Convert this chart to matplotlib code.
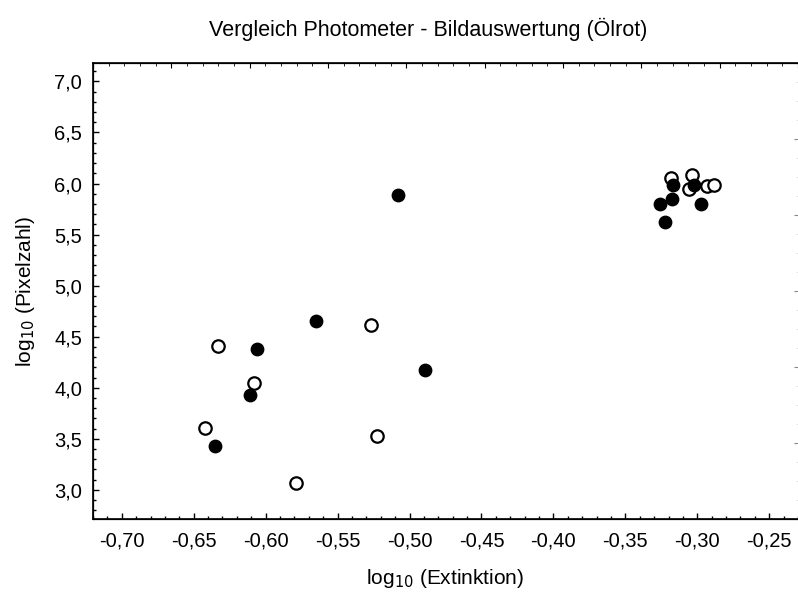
import numpy as np
import matplotlib.pyplot as plt

plt.rcParams['font.family'] = ['Liberation Sans', 'DejaVu Sans']

# Photometer (filled) and open circles, log10 values
ext_filled = [-0.6353, -0.6110, -0.6062, -0.5653, -0.5080, -0.4890,
              -0.3260, -0.3225, -0.3175, -0.3172, -0.3022, -0.2972]
pix_filled = [3.426, 3.934, 4.383, 4.654, 5.89, 4.17,
              5.80, 5.62, 5.85, 5.99, 5.99, 5.80]

ext_open = [-0.6420, -0.6330, -0.6083, -0.5790, -0.5266, -0.5225,
            -0.3185, -0.3058, -0.3035, -0.2935, -0.2885]
pix_open = [3.61, 4.41, 4.05, 3.07, 4.61, 3.53,
            6.05, 5.95, 6.08, 5.98, 5.99]

xticks = [-0.70, -0.65, -0.60, -0.55, -0.50, -0.45, -0.40, -0.35, -0.30, -0.25]
yticks = [3.0, 3.5, 4.0, 4.5, 5.0, 5.5, 6.0, 6.5, 7.0]

fig = plt.figure(figsize=(7.98, 5.94), dpi=100)
ax = fig.add_axes([93/798, 1 - 519/594, 705/798, 456/594])

ax.scatter(ext_open, pix_open, s=80, facecolor='white', edgecolor='black',
           linewidth=1.6, zorder=3)
ax.scatter(ext_filled, pix_filled, s=80, color='black', zorder=4)

ax.set_xlim(-0.72, -0.23)
ax.set_ylim(2.715, 7.18)
ax.set_xticks(xticks)
ax.set_xticklabels([f"{v:.2f}".replace('.', ',') for v in xticks])
ax.set_yticks(yticks)
ax.set_yticklabels([f"{v:.1f}".replace('.', ',') for v in yticks])
ax.set_xticks(np.arange(-0.72, -0.229, 0.01), minor=True)
ax.set_yticks(np.arange(2.8, 7.15, 0.1), minor=True)
ax.tick_params(which='both', direction='in', labelsize=14.5)
ax.tick_params(which='major', length=4, width=1)
ax.tick_params(which='minor', length=2.5, width=1)
ax.tick_params(axis='x', pad=9)
ax.tick_params(axis='y', pad=8)
ax.spines['right'].set_visible(False)
for s in ['left', 'bottom', 'top']:
    ax.spines[s].set_linewidth(1.2)

# secondary scales on top and right as in the original plot
top = ax.twiny()
top.set_xlim(0, 9)
top.set_xticks(range(10))
top.set_xticks(np.arange(0, 9.01, 0.2), minor=True)
top.tick_params(which='both', direction='in', labeltop=False)
top.tick_params(which='major', length=3.5)
top.tick_params(which='minor', length=2.5)

right = ax.twinx()
right.set_ylim(0, 6)
right.set_yticks(range(7))
right.set_yticks(np.arange(0, 6.01, 0.25), minor=True)
right.tick_params(which='both', direction='in', labelright=False, color='#888888')
right.tick_params(which='major', length=3)
right.tick_params(which='minor', length=1.5, color='#dddddd')
for a in (top, right):
    a.spines['right'].set_visible(False)

fig.text(428/798, 1 - 29/594, "Vergleich Photometer - Bildauswertung (Ölrot)",
         fontsize=15.5, ha='center', va='center')
ax.set_xlabel("log$_{10}$ (Extinktion)", fontsize=15, labelpad=12)
ax.set_ylabel("log$_{10}$ (Pixelzahl)", fontsize=15, labelpad=12)

fig.savefig("out.png", dpi=100)
